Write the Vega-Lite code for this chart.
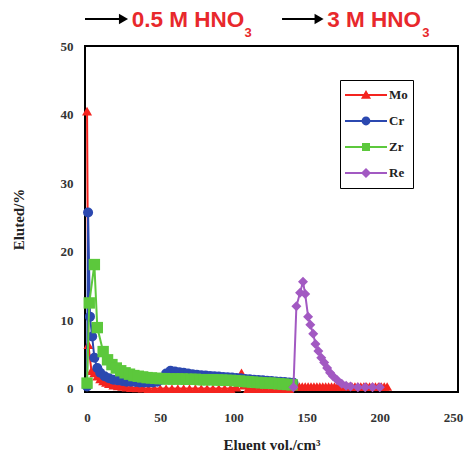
{
  "$schema": "https://vega.github.io/schema/vega-lite/v6.json",
  "width": 373,
  "height": 346,
  "autosize": "none",
  "padding": {"left": 85, "top": 46, "right": 15, "bottom": 65},
  "background": "white",
  "config": {
    "view": {"stroke": "#000", "strokeWidth": 2},
    "axis": {"grid": false, "domain": false, "ticks": false, "tickSize": 0, "labelFont": "Liberation Serif", "labelFontWeight": "bold", "labelFontSize": 13, "labelColor": "#333", "titleFont": "Liberation Serif", "titleFontWeight": "bold", "titleFontSize": 15, "titleColor": "#222", "labelFlush": false, "labelOverlap": false},
    "legend": {"title": null, "orient": "none", "legendX": 255, "legendY": 34, "strokeColor": "#000", "fillColor": "white", "padding": 5, "symbolSize": 1764, "clipHeight": 20, "rowPadding": 6, "labelFont": "Liberation Serif", "labelFontWeight": "bold", "labelFontSize": 13, "labelColor": "#222", "labelOffset": 2, "symbolStrokeWidth": 0, "symbolOpacity": 1}
  },
  "datasets": {
    "d": [
      {"s":"Mo","x":0,"y":40.5},{"s":"Mo","x":0.9,"y":6.4},{"s":"Mo","x":3,"y":2.6},{"s":"Mo","x":5,"y":2.3},{"s":"Mo","x":7,"y":1.8},{"s":"Mo","x":9,"y":1.4},{"s":"Mo","x":11,"y":1.1},{"s":"Mo","x":13,"y":0.9},{"s":"Mo","x":15,"y":0.7},{"s":"Mo","x":18,"y":0.5},{"s":"Mo","x":21,"y":0.4},{"s":"Mo","x":24,"y":0.3},{"s":"Mo","x":27,"y":0.2},{"s":"Mo","x":30,"y":0.15},{"s":"Mo","x":34,"y":0.1},{"s":"Mo","x":38,"y":0.05},{"s":"Mo","x":42,"y":0},{"s":"Mo","x":46,"y":0},{"s":"Mo","x":50,"y":0},{"s":"Mo","x":54,"y":0},{"s":"Mo","x":58,"y":0},{"s":"Mo","x":62,"y":0},{"s":"Mo","x":66,"y":0},{"s":"Mo","x":70,"y":0},{"s":"Mo","x":74,"y":0},{"s":"Mo","x":78,"y":0},{"s":"Mo","x":82,"y":0},{"s":"Mo","x":86,"y":0},{"s":"Mo","x":90,"y":0},{"s":"Mo","x":94,"y":0},{"s":"Mo","x":98,"y":0},{"s":"Mo","x":102,"y":0.2},{"s":"Mo","x":104,"y":1.0},{"s":"Mo","x":105.5,"y":2.3},{"s":"Mo","x":107,"y":0.5},{"s":"Mo","x":110,"y":0},{"s":"Mo","x":114,"y":0},{"s":"Mo","x":118,"y":0},{"s":"Mo","x":122,"y":0},{"s":"Mo","x":126,"y":0},{"s":"Mo","x":130,"y":0},{"s":"Mo","x":134,"y":0},{"s":"Mo","x":138,"y":0},
      {"s":"Mo","x":141,"y":0.3},{"s":"Mo","x":143,"y":0.3},{"s":"Mo","x":145,"y":0.3},{"s":"Mo","x":147,"y":0.3},{"s":"Mo","x":149,"y":0.3},{"s":"Mo","x":151,"y":0.3},{"s":"Mo","x":153,"y":0.3},{"s":"Mo","x":155,"y":0.3},{"s":"Mo","x":157,"y":0.3},{"s":"Mo","x":159,"y":0.3},{"s":"Mo","x":161,"y":0.3},{"s":"Mo","x":163,"y":0.3},{"s":"Mo","x":165,"y":0.3},{"s":"Mo","x":167,"y":0.3},{"s":"Mo","x":169,"y":0.3},{"s":"Mo","x":171,"y":0.3},{"s":"Mo","x":173,"y":0.3},{"s":"Mo","x":175,"y":0.3},{"s":"Mo","x":177,"y":0.3},{"s":"Mo","x":179,"y":0.3},{"s":"Mo","x":181,"y":0.3},{"s":"Mo","x":183,"y":0.3},{"s":"Mo","x":185,"y":0.3},{"s":"Mo","x":187,"y":0.3},{"s":"Mo","x":189,"y":0.3},{"s":"Mo","x":191,"y":0.3},{"s":"Mo","x":193,"y":0.3},{"s":"Mo","x":195,"y":0.3},{"s":"Mo","x":197,"y":0.3},{"s":"Mo","x":199,"y":0.3},{"s":"Mo","x":201,"y":0.3},{"s":"Mo","x":203,"y":0.3},{"s":"Mo","x":205,"y":0.3},
      {"s":"Cr","x":0,"y":0.3},{"s":"Cr","x":0.7,"y":25.7},{"s":"Cr","x":2,"y":10.5},{"s":"Cr","x":3.5,"y":7.6},{"s":"Cr","x":5,"y":4.5},{"s":"Cr","x":7,"y":3.0},{"s":"Cr","x":9,"y":2.3},{"s":"Cr","x":12,"y":1.8},{"s":"Cr","x":15,"y":1.5},{"s":"Cr","x":18,"y":1.3},{"s":"Cr","x":21,"y":1.2},{"s":"Cr","x":24,"y":1.1},{"s":"Cr","x":27,"y":1.0},{"s":"Cr","x":30,"y":1.0},{"s":"Cr","x":33,"y":0.95},{"s":"Cr","x":36,"y":0.9},{"s":"Cr","x":39,"y":0.9},{"s":"Cr","x":42,"y":0.9},{"s":"Cr","x":45,"y":0.9},{"s":"Cr","x":48,"y":1.0},{"s":"Cr","x":51,"y":1.3},{"s":"Cr","x":54,"y":2.2},{"s":"Cr","x":57,"y":2.6},{"s":"Cr","x":60,"y":2.5},{"s":"Cr","x":63,"y":2.4},{"s":"Cr","x":66,"y":2.3},{"s":"Cr","x":69,"y":2.2},{"s":"Cr","x":72,"y":2.1},{"s":"Cr","x":75,"y":2.0},{"s":"Cr","x":78,"y":1.95},{"s":"Cr","x":81,"y":1.9},{"s":"Cr","x":84,"y":1.85},{"s":"Cr","x":87,"y":1.8},{"s":"Cr","x":90,"y":1.75},{"s":"Cr","x":93,"y":1.7},{"s":"Cr","x":96,"y":1.65},{"s":"Cr","x":99,"y":1.6},{"s":"Cr","x":102,"y":1.55},{"s":"Cr","x":105,"y":1.5},{"s":"Cr","x":108,"y":1.4},{"s":"Cr","x":111,"y":1.35},{"s":"Cr","x":114,"y":1.3},{"s":"Cr","x":117,"y":1.25},{"s":"Cr","x":120,"y":1.2},{"s":"Cr","x":123,"y":1.15},{"s":"Cr","x":126,"y":1.1},{"s":"Cr","x":129,"y":1.05},{"s":"Cr","x":132,"y":1.0},{"s":"Cr","x":135,"y":0.95},{"s":"Cr","x":138,"y":0.9},{"s":"Cr","x":141,"y":0.85},
      {"s":"Zr","x":0,"y":0.8},{"s":"Zr","x":1.5,"y":12.5},{"s":"Zr","x":5,"y":18.1},{"s":"Zr","x":7,"y":8.9},{"s":"Zr","x":11,"y":5.4},{"s":"Zr","x":14,"y":4.2},{"s":"Zr","x":17,"y":3.5},{"s":"Zr","x":20,"y":3.0},{"s":"Zr","x":23,"y":2.6},{"s":"Zr","x":26,"y":2.3},{"s":"Zr","x":29,"y":2.1},{"s":"Zr","x":32,"y":1.9},{"s":"Zr","x":35,"y":1.8},{"s":"Zr","x":38,"y":1.7},{"s":"Zr","x":41,"y":1.6},{"s":"Zr","x":44,"y":1.55},{"s":"Zr","x":47,"y":1.5},{"s":"Zr","x":50,"y":1.45},{"s":"Zr","x":53,"y":1.45},{"s":"Zr","x":56,"y":1.4},{"s":"Zr","x":59,"y":1.4},{"s":"Zr","x":62,"y":1.4},{"s":"Zr","x":65,"y":1.4},{"s":"Zr","x":68,"y":1.35},{"s":"Zr","x":71,"y":1.35},{"s":"Zr","x":74,"y":1.35},{"s":"Zr","x":77,"y":1.3},{"s":"Zr","x":80,"y":1.3},{"s":"Zr","x":83,"y":1.3},{"s":"Zr","x":86,"y":1.3},{"s":"Zr","x":89,"y":1.25},{"s":"Zr","x":92,"y":1.25},{"s":"Zr","x":95,"y":1.2},{"s":"Zr","x":98,"y":1.2},{"s":"Zr","x":101,"y":1.15},{"s":"Zr","x":104,"y":1.1},{"s":"Zr","x":107,"y":1.05},{"s":"Zr","x":110,"y":1.0},{"s":"Zr","x":113,"y":0.95},{"s":"Zr","x":116,"y":0.9},{"s":"Zr","x":119,"y":0.85},{"s":"Zr","x":122,"y":0.8},{"s":"Zr","x":125,"y":0.8},{"s":"Zr","x":128,"y":0.75},{"s":"Zr","x":131,"y":0.7},{"s":"Zr","x":134,"y":0.65},{"s":"Zr","x":137,"y":0.6},{"s":"Zr","x":140,"y":0.55},
      {"s":"Re","x":141,"y":0.2},{"s":"Re","x":143,"y":12.0},{"s":"Re","x":145.5,"y":14.0},{"s":"Re","x":147.5,"y":15.6},{"s":"Re","x":149,"y":13.8},{"s":"Re","x":151,"y":10.5},{"s":"Re","x":152.5,"y":9.3},{"s":"Re","x":154.5,"y":8.0},{"s":"Re","x":156,"y":6.5},{"s":"Re","x":158,"y":5.5},{"s":"Re","x":160,"y":4.5},{"s":"Re","x":162,"y":3.8},{"s":"Re","x":164,"y":3.0},{"s":"Re","x":166,"y":2.3},{"s":"Re","x":168,"y":1.8},{"s":"Re","x":171,"y":1.2},{"s":"Re","x":174,"y":0.7},{"s":"Re","x":177,"y":0.4},{"s":"Re","x":180,"y":0.3},{"s":"Re","x":185,"y":0.2},{"s":"Re","x":190,"y":0.2},{"s":"Re","x":195,"y":0.2},{"s":"Re","x":200,"y":0.2}
    ],
    "ann": [
      {"k":"arrow","x":-1.4,"x2":23,"y":53.95},
      {"k":"arrow","x":133.2,"x2":156,"y":53.95},
      {"k":"head","x":24.9,"y":53.95},
      {"k":"head","x":158.5,"y":53.95},
      {"k":"text","t":"0.5 M HNO","x":30.5,"y":52.75},
      {"k":"text","t":"3 M HNO","x":164,"y":52.75},
      {"k":"sub","t":"3","x":107.5,"y":51.3},
      {"k":"sub","t":"3","x":229,"y":51.3}
    ]
  },
  "data": {"name": "d"},
  "encoding": {
    "x": {"field": "x", "type": "quantitative", "scale": {"domain": [-1.4, 253.4], "nice": false, "zero": false},
      "axis": {"values": [0, 50, 100, 150, 200, 250], "title": "Eluent vol./cm³", "labelPadding": 19, "titlePadding": 13}},
    "y": {"field": "y", "type": "quantitative", "scale": {"domain": [-0.5, 50], "nice": false, "zero": false},
      "axis": {"values": [0, 10, 20, 30, 40, 50], "title": "Eluted/%", "labelPadding": 12, "titlePadding": 34}}
  },
  "layer": [
    {
      "transform": [{"filter": "datum.s == 'Mo'"}],
      "mark": {"type": "line", "strokeWidth": 2, "point": {"shape": "triangle-up", "filled": true, "size": 100, "opacity": 1}},
      "encoding": {"color": {"field": "s", "type": "nominal", "scale": {"domain": ["Mo", "Cr", "Zr", "Re"], "range": ["#f4241f", "#2b48b0", "#5cc83c", "#a259c2"]}}}
    },
    {
      "transform": [{"filter": "datum.s == 'Cr'"}],
      "mark": {"type": "line", "strokeWidth": 2, "point": {"shape": "circle", "filled": true, "size": 100, "opacity": 1}},
      "encoding": {"color": {"field": "s", "type": "nominal"}}
    },
    {
      "transform": [{"filter": "datum.s == 'Zr'"}],
      "mark": {"type": "line", "strokeWidth": 2, "point": {"shape": "square", "filled": true, "size": 130, "opacity": 1}},
      "encoding": {"color": {"field": "s", "type": "nominal"}}
    },
    {
      "transform": [{"filter": "datum.s == 'Re'"}],
      "mark": {"type": "line", "strokeWidth": 2, "point": {"shape": "diamond", "filled": true, "size": 100, "opacity": 1}},
      "encoding": {"color": {"field": "s", "type": "nominal"}}
    },
    {
      "transform": [{"filter": "datum.x > 1000"}],
      "mark": {"type": "point", "filled": true, "opacity": 1},
      "encoding": {
        "color": {"field": "s", "type": "nominal"},
        "shape": {"field": "s", "type": "nominal",
          "scale": {"domain": ["Mo", "Cr", "Zr", "Re"], "range": [
            "M-1,-0.05H1V0.05H-1Z M-0.24,0.18L0,-0.24L0.24,0.18Z",
            "M-1,-0.05H1V0.05H-1Z M0.21,0A0.21,0.21 0 1 1 -0.21,0A0.21,0.21 0 1 1 0.21,0Z",
            "M-1,-0.05H1V0.05H-1Z M-0.19,-0.19H0.19V0.19H-0.19Z",
            "M-1,-0.05H1V0.05H-1Z M0,-0.24L0.24,0L0,0.24L-0.24,0Z"]}}
      }
    },
    {
      "data": {"name": "ann"},
      "transform": [{"filter": "datum.k == 'arrow'"}],
      "mark": {"type": "rule", "color": "#000", "strokeWidth": 2},
      "encoding": {"x2": {"field": "x2"}}
    },
    {
      "data": {"name": "ann"},
      "transform": [{"filter": "datum.k == 'head'"}],
      "mark": {"type": "point", "shape": "triangle-right", "filled": true, "color": "#000", "size": 110, "opacity": 1},
      "encoding": {}
    },
    {
      "data": {"name": "ann"},
      "transform": [{"filter": "datum.k == 'text'"}],
      "mark": {"type": "text", "align": "left", "baseline": "alphabetic", "font": "Liberation Sans", "fontWeight": "bold", "fontSize": 22.5, "color": "#e8282c"},
      "encoding": {"text": {"field": "t"}}
    },
    {
      "data": {"name": "ann"},
      "transform": [{"filter": "datum.k == 'sub'"}],
      "mark": {"type": "text", "align": "left", "baseline": "alphabetic", "font": "Liberation Sans", "fontWeight": "bold", "fontSize": 13, "color": "#e8282c"},
      "encoding": {"text": {"field": "t"}}
    }
  ]
}
